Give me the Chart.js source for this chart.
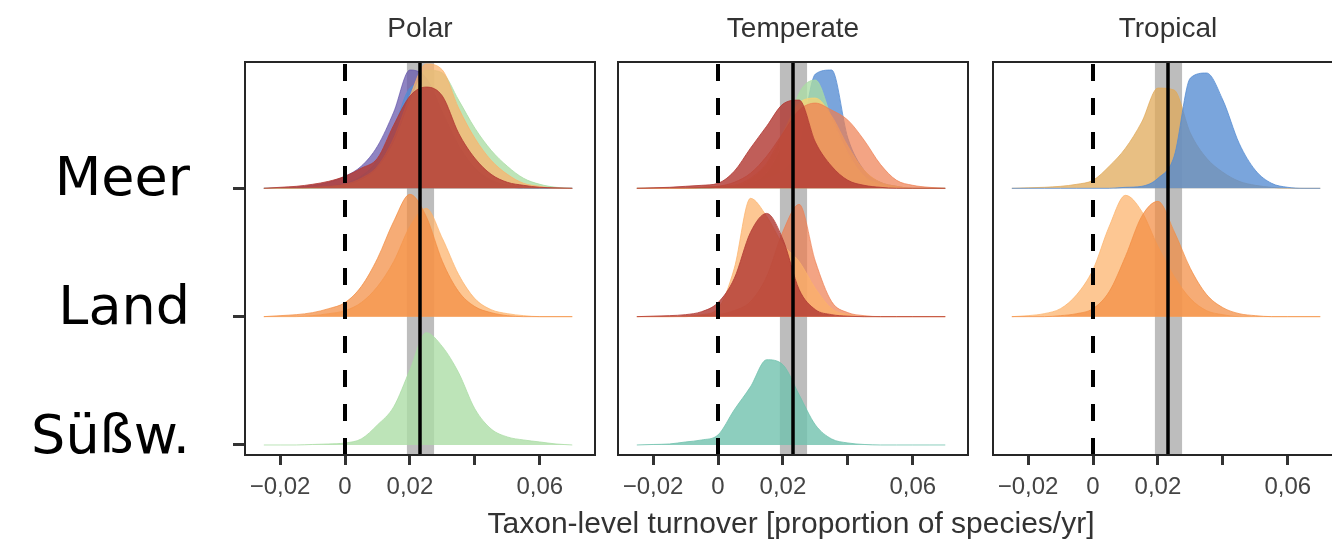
<!DOCTYPE html>
<html>
<head>
<meta charset="utf-8">
<script src="https://cdn.jsdelivr.net/npm/chart.js@4.4.1/dist/chart.umd.min.js"></script>
<style>
  html, body { margin: 0; padding: 0; background: #fff; overflow: hidden; }
  #wrap { position: relative; width: 1332px; height: 547px; overflow: hidden; }
  canvas { position: absolute; }
  .txt { position: absolute; white-space: nowrap; }
  .row { font-family: 'DejaVu Sans', Verdana, sans-serif; font-size: 54px; line-height: 54px; color: #000; text-align: right; right: 1142px; }
  .ptitle { font-family: 'Liberation Sans', Arial, sans-serif; font-size: 28px; line-height: 28px; color: #333; transform: translateX(-50%); }
  .xtitle { font-family: 'Liberation Sans', Arial, sans-serif; font-size: 30px; line-height: 30px; color: #333; transform: translateX(-50%); }
</style>
</head>
<body>
<div id="wrap"></div>
<script>
  // ── Data ───────────────────────────────────────────────────
  const panelNames = ['Polar', 'Temperate', 'Tropical'];
  const rowNames = ['Meer', 'Land', 'Süßw.'];
  const turnover = [-0.025, -0.02, -0.015, -0.01, -0.005, 0, 0.005, 0.01, 0.015, 0.02,
                    0.025, 0.03, 0.035, 0.04, 0.045, 0.05, 0.055, 0.06, 0.065, 0.07];
  const xTicks = [-0.02, 0, 0.02, 0.04, 0.06];
  const xTickLabels = ['−0,02', '0', '0,02', '', '0,06'];
  const zeroLine = 0;
  const meanTurnover = 0.0231;
  const meanBand = [0.019, 0.0275];

  // ridge heights (scaled density, 128 = one row) at each turnover value
  const polarMeerPurple  = [0, 0, 1, 3, 6, 12, 22, 42, 76, 118, 110, 75, 42, 20, 8, 3, 1, 0, 0, 0];
  const polarMeerBlue    = [0, 0, 0, 1, 2, 5, 12, 28, 60, 100, 105, 75, 42, 18, 6, 2, 0, 0, 0, 0];
  const polarMeerGreen   = [0, 0, 0, 0, 1, 3, 8, 20, 45, 85, 118, 115, 88, 60, 38, 22, 10, 4, 1, 0];
  const polarMeerOrange  = [0, 0, 0, 1, 2, 4, 10, 22, 50, 92, 124, 118, 80, 50, 28, 14, 5, 2, 0, 0];
  const polarMeerRed     = [0, 1, 2, 4, 7, 12, 20, 30, 63, 92, 101, 92, 55, 30, 14, 6, 3, 1, 0.5, 0];
  const polarLandLight   = [0, 0, 0, 1, 3, 6, 14, 30, 55, 90, 108, 78, 42, 18, 7, 3, 1, 0, 0, 0];
  const polarLandOrange  = [0, 1, 2, 4, 8, 14, 30, 58, 95, 122, 100, 55, 25, 10, 4, 1, 0, 0, 0, 0];
  const polarFreshGreen  = [0, 0, 0, 0.5, 1, 2, 6, 20, 38, 75, 112, 98, 72, 36, 16, 8, 5, 3, 1, 0];

  const tempMeerBlue     = [0, 0, 0, 0, 0, 1, 2, 5, 10, 18, 42, 114, 118, 50, 18, 6, 2, 0, 0, 0];
  const tempMeerGreen    = [0, 0, 0, 0, 0, 1, 2, 5, 15, 45, 95, 108, 70, 35, 12, 4, 1, 0, 0, 0];
  const tempMeerYellow   = [0, 0, 0, 0, 1, 2, 3, 10, 25, 55, 85, 90, 72, 42, 18, 6, 2, 0, 0, 0];
  const tempMeerOrange   = [0, 0, 0, 0, 1, 2, 6, 15, 32, 55, 78, 85, 78, 68, 48, 24, 8, 3, 1, 0];
  const tempMeerRed      = [0, 0.5, 1, 2, 3, 5, 17, 40, 62, 84, 88, 46, 22, 8, 3, 1, 0, 0, 0, 0];
  const tempLandSalmon   = [0, 0, 0, 0, 1, 2, 6, 15, 40, 85, 112, 55, 15, 4, 1, 0, 0, 0, 0, 0];
  const tempLandLight    = [0, 0, 0, 0.5, 2, 8, 48, 118, 100, 72, 55, 28, 8, 2, 0, 0, 0, 0, 0, 0];
  const tempLandRed      = [0, 0.5, 1, 2, 5, 14, 38, 84, 103, 77, 27, 7, 2, 0.5, 0, 0, 0, 0, 0, 0];
  const tempFreshTeal    = [0, 0.5, 1, 3, 5, 10, 35, 58, 85, 80, 50, 20, 6, 2, 0.5, 0, 0, 0, 0, 0];

  const tropMeerTan      = [0, 0.5, 1, 2, 4, 8, 22, 40, 66, 100, 98, 55, 30, 16, 7, 3, 1, 0, 0, 0];
  const tropMeerBlue     = [0, 0, 0, 0, 0, 0, 0, 1, 2, 10, 32, 110, 115, 88, 45, 18, 5, 1, 0, 0];
  const tropLandLight    = [0, 1, 3, 8, 22, 47, 90, 121, 105, 70, 40, 18, 6, 2, 0, 0, 0, 0, 0, 0];
  const tropLandOrange   = [0, 0, 0, 1, 3, 8, 25, 60, 100, 115, 85, 48, 22, 9, 3, 1, 0, 0, 0, 0];

  // drawing order: first listed is drawn first (underneath)
  const ridges = [
    { panel: 0, row: 'Meer', col: 'purple', h: polarMeerPurple },
    { panel: 0, row: 'Meer', col: 'blue', h: polarMeerBlue },
    { panel: 0, row: 'Meer', col: 'green', h: polarMeerGreen },
    { panel: 0, row: 'Meer', col: 'light', h: polarMeerOrange },
    { panel: 0, row: 'Meer', col: 'red', h: polarMeerRed },
    { panel: 0, row: 'Land', col: 'light', h: polarLandLight },
    { panel: 0, row: 'Land', col: 'orange', h: polarLandOrange },
    { panel: 0, row: 'Süßw.', col: 'green', h: polarFreshGreen },
    { panel: 1, row: 'Meer', col: 'blue', h: tempMeerBlue },
    { panel: 1, row: 'Meer', col: 'green', h: tempMeerGreen },
    { panel: 1, row: 'Meer', col: 'yellow', h: tempMeerYellow },
    { panel: 1, row: 'Meer', col: 'salmon', h: tempMeerOrange },
    { panel: 1, row: 'Meer', col: 'red', h: tempMeerRed },
    { panel: 1, row: 'Land', col: 'salmon', h: tempLandSalmon },
    { panel: 1, row: 'Land', col: 'light', h: tempLandLight },
    { panel: 1, row: 'Land', col: 'red', h: tempLandRed },
    { panel: 1, row: 'Süßw.', col: 'teal', h: tempFreshTeal },
    { panel: 2, row: 'Meer', col: 'tan', h: tropMeerTan },
    { panel: 2, row: 'Meer', col: 'blue', h: tropMeerBlue },
    { panel: 2, row: 'Land', col: 'light', h: tropLandLight },
    { panel: 2, row: 'Land', col: 'orange', h: tropLandOrange }
  ];

  // ── Styles / geometry ───────────────────────────────────────
  const palette = {
    purple: 'rgba(100,85,170,0.72)',
    blue:   'rgba(85,140,210,0.78)',
    green:  'rgba(171,221,164,0.78)',
    teal:   'rgba(112,194,174,0.8)',
    yellow: 'rgba(250,212,115,0.75)',
    tan:    'rgba(224,170,90,0.75)',
    light:  'rgba(252,178,105,0.72)',
    orange: 'rgba(243,140,65,0.72)',
    salmon: 'rgba(238,125,80,0.7)',
    red:    'rgba(178,58,52,0.82)'
  };
  const rowBase = { 'Süßw.': 0, 'Land': 128, 'Meer': 256 };
  const yMin = -10, yMax = 382;
  const xMin = -0.0308, xMax = 0.077;
  const boxLeft = [245, 618, 993];
  const boxW = 350, canvasTop = 40, canvasH = 507;
  const FONT = "'Liberation Sans', Arial, sans-serif";

  const wrap = document.getElementById('wrap');

  const panelBox = {
    id: 'panelBox',
    afterDatasetsDraw(chart) {
      const { ctx, chartArea: a } = chart;
      ctx.save();
      ctx.strokeStyle = '#262626';
      ctx.lineWidth = 2;
      ctx.strokeRect(a.left, a.top, a.right - a.left, a.bottom - a.top);
      ctx.restore();
    }
  };

  function makePanel(i) {
    const padL = i === 0 ? 20 : 10;
    const cv = document.createElement('canvas');
    cv.width = boxW + padL + 10;
    cv.height = canvasH;
    cv.style.left = (boxLeft[i] - padL) + 'px';
    cv.style.top = canvasTop + 'px';
    wrap.appendChild(cv);

    const datasets = [];
    datasets.push({
      data: [{ x: meanBand[0], y: yMax }, { x: meanBand[1], y: yMax }],
      fill: { value: yMin }, backgroundColor: '#bdbdbd', borderColor: 'transparent',
      borderWidth: 0, pointRadius: 0, order: 100
    });
    ridges.filter(r => r.panel === i).forEach((r, k) => {
      datasets.push({
        data: turnover.map((x, j) => ({ x, y: rowBase[r.row] + r.h[j] })),
        fill: { value: rowBase[r.row] },
        backgroundColor: palette[r.col], borderColor: palette[r.col], borderWidth: 1,
        cubicInterpolationMode: 'monotone', pointRadius: 0, order: 90 - k
      });
    });
    datasets.push({
      data: [{ x: zeroLine, y: yMin }, { x: zeroLine, y: yMax }],
      borderColor: '#000', borderWidth: 4, borderDash: [17, 17], pointRadius: 0, fill: false, order: 1
    });
    datasets.push({
      data: [{ x: meanTurnover, y: yMin }, { x: meanTurnover, y: yMax }],
      borderColor: '#000', borderWidth: 3.5, pointRadius: 0, fill: false, order: 0
    });

    new Chart(cv, {
      type: 'line',
      data: { datasets },
      options: {
        responsive: false, animation: false,
        layout: { padding: { left: i === 0 ? 0 : 10, right: 10, top: 22, bottom: 0 } },
        plugins: { legend: { display: false }, tooltip: { enabled: false } },
        scales: {
          x: {
            type: 'linear', min: xMin, max: xMax,
            afterBuildTicks: s => { s.ticks = xTicks.map(v => ({ value: v })); },
            afterFit: s => { s.height = 92; },
            ticks: { autoSkip: false, maxRotation: 0, padding: 8, color: '#444',
                     font: { family: FONT, size: 24 }, callback: (v, idx) => xTickLabels[idx] },
            grid: { drawOnChartArea: false, drawTicks: true, tickLength: 10, lineWidth: 3, color: '#333' },
            border: { display: false }
          },
          y: {
            type: 'linear', min: yMin, max: yMax, display: i === 0,
            afterBuildTicks: s => { s.ticks = rowNames.map(n => ({ value: rowBase[n] })); },
            afterFit: s => { s.width = i === 0 ? 20 : 0; },
            ticks: { callback: () => '' },
            grid: { drawOnChartArea: false, drawTicks: true, tickLength: 12, lineWidth: 3, color: '#333' },
            border: { display: false }
          }
        }
      },
      plugins: [panelBox]
    });

    const t = document.createElement('div');
    t.className = 'txt ptitle';
    t.textContent = panelNames[i];
    t.style.left = (boxLeft[i] + boxW / 2) + 'px';
    t.style.top = '14px';
    wrap.appendChild(t);
  }

  [0, 1, 2].forEach(makePanel);

  // row labels
  const rowTop = { 'Meer': 150, 'Land': 279, 'Süßw.': 408 };
  rowNames.forEach(n => {
    const d = document.createElement('div');
    d.className = 'txt row';
    d.textContent = n;
    d.style.top = rowTop[n] + 'px';
    wrap.appendChild(d);
  });

  const xt = document.createElement('div');
  xt.className = 'txt xtitle';
  xt.textContent = 'Taxon-level turnover [proportion of species/yr]';
  xt.style.left = '791px';
  xt.style.top = '508px';
  wrap.appendChild(xt);
</script>
</body>
</html>
